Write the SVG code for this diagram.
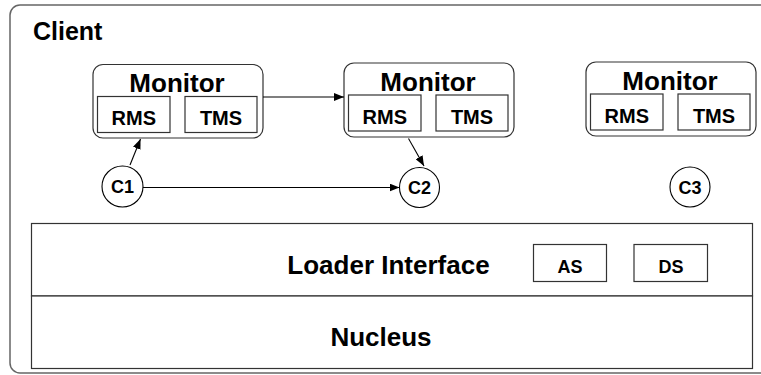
<svg xmlns="http://www.w3.org/2000/svg" width="761" height="375" viewBox="0 0 761 375">
<defs>
<style>
text{font-family:"Liberation Sans",Arial,sans-serif;font-weight:bold;fill:#000;text-anchor:middle}
.box{fill:#fff;stroke:#333;stroke-width:1.2}
.mon{fill:#fff;stroke:#333;stroke-width:1.2}
.conn{stroke:#000;stroke-width:1.1;fill:none}
.big{font-size:26px}
.mid{font-size:20px}
.sm{font-size:18px}
</style>
<marker id="ah" viewBox="0 0 10 8" refX="10" refY="4" markerWidth="10" markerHeight="8" markerUnits="userSpaceOnUse" orient="auto">
<path d="M0,0 L10,4 L0,8 Z" fill="#000"/>
</marker>
</defs>
<g id="client">
<rect x="10" y="5" width="770" height="368" rx="10" fill="#fff" stroke="#666" stroke-width="1.5"/>
<text x="33" y="39.5" style="text-anchor:start;font-size:25px">Client</text>
</g>
<g id="monitor1">
<rect class="mon" x="93" y="64.5" width="170" height="73.5" rx="10"/>
<text class="big" x="177" y="92">Monitor</text>
<rect class="box" x="97.5" y="96.5" width="72.5" height="36"/>
<text class="mid" x="133.8" y="124.5">RMS</text>
<rect class="box" x="185" y="96.5" width="72" height="36"/>
<text class="mid" x="221" y="124.5">TMS</text>
</g>
<g id="monitor2">
<rect class="mon" x="344" y="63" width="170" height="74" rx="10"/>
<text class="big" x="428" y="91">Monitor</text>
<rect class="box" x="348.5" y="95" width="72.5" height="36"/>
<text class="mid" x="384.8" y="123.5">RMS</text>
<rect class="box" x="436" y="95" width="72" height="36"/>
<text class="mid" x="472" y="123.5">TMS</text>
</g>
<g id="monitor3">
<rect class="mon" x="586" y="62" width="170" height="74" rx="10"/>
<text class="big" x="670" y="90">Monitor</text>
<rect class="box" x="590.5" y="94" width="72.5" height="36"/>
<text class="mid" x="626.8" y="122.5">RMS</text>
<rect class="box" x="678" y="94" width="72" height="36"/>
<text class="mid" x="714" y="122.5">TMS</text>
</g>
<g id="c1">
<circle cx="122.5" cy="186.5" r="20.5" fill="#fff" stroke="#000" stroke-width="1.1"/>
<text class="sm" x="122.5" y="193">C1</text>
</g>
<g id="c2">
<circle cx="419.5" cy="187.5" r="20" fill="#fff" stroke="#000" stroke-width="1.1"/>
<text class="sm" x="419.5" y="194">C2</text>
</g>
<g id="c3">
<circle cx="690" cy="187" r="20" fill="#fff" stroke="#000" stroke-width="1.1"/>
<text class="sm" x="690" y="193.5">C3</text>
</g>
<g id="loader">
<rect class="box" x="31.5" y="223.5" width="721" height="72.5"/>
<text class="big" x="388.5" y="274">Loader Interface</text>
<rect class="box" x="533.5" y="244.5" width="73" height="37"/>
<text class="sm" x="570" y="273">AS</text>
<rect class="box" x="634" y="244.5" width="73.5" height="37"/>
<text class="sm" x="671" y="273">DS</text>
</g>
<g id="nucleus">
<rect class="box" x="31.5" y="296" width="721" height="72.5"/>
<text class="big" x="381" y="345.5">Nucleus</text>
</g>
<g id="connectors">
<line class="conn" x1="130" y1="165" x2="140.5" y2="139" marker-end="url(#ah)"/>
<line class="conn" x1="263" y1="97" x2="344" y2="97" marker-end="url(#ah)"/>
<line class="conn" x1="143" y1="187.5" x2="399.5" y2="187.5" marker-end="url(#ah)"/>
<line class="conn" x1="408.5" y1="138.5" x2="424" y2="166" marker-end="url(#ah)"/>
</g>
</svg>
